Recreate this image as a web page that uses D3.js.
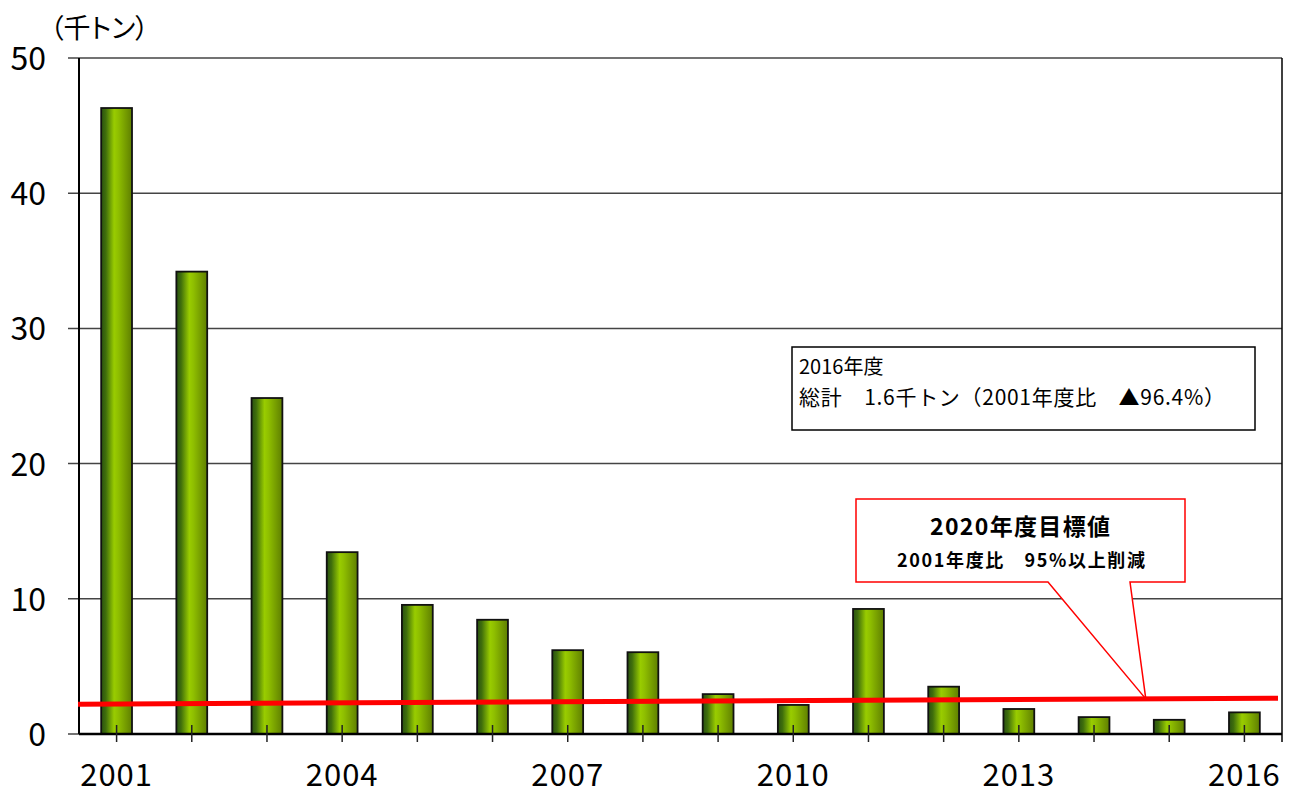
<!DOCTYPE html>
<html><head><meta charset="utf-8">
<script src="https://cdn.jsdelivr.net/npm/d3@7"></script>
<style>body{margin:0;background:#fff}svg{display:block}</style>
</head><body>
<script>
const years = ["2001","2002","2003","2004","2005","2006","2007","2008","2009","2010","2011","2012","2013","2014","2015","2016"];
const values = [46.3,34.2,24.85,13.45,9.55,8.45,6.2,6.05,2.95,2.15,9.25,3.5,1.85,1.25,1.05,1.6];
const yTicks = [0,10,20,30,40,50];
const xLabelYears = ["2001","2004","2007","2010","2013","2016"];
const targetLine = [2.2, 2.65]; // drawn target line, left and right ends
const unitLabel = "（千トン）";
const infoLines = ["2016年度","総計　1.6千トン（2001年度比　▲96.4%）"];
const targetLines = ["2020年度目標値","2001年度比　95%以上削減"];

const W=1293,H=796;
const m={l:79,r:1282,t:58,b:734};
const svg=d3.select("body").append("svg").attr("width",W).attr("height",H);
const font="'Noto Sans CJK JP','Noto Sans','DejaVu Sans',sans-serif";

const x=d3.scaleBand().domain(years).range([m.l,m.r]).paddingInner(0.59).paddingOuter(0.295);
const y=d3.scaleLinear().domain([0,50]).range([m.b,m.t]);

const defs=svg.append("defs");
const g=defs.append("linearGradient").attr("id","bg").attr("x1","0").attr("x2","1").attr("y1","0").attr("y2","0");
[[0,"#2a5211"],[0.15,"#3f6e0c"],[0.42,"#99cc00"],[0.55,"#8fbf00"],[1,"#5f7f00"]].forEach(s=>g.append("stop").attr("offset",s[0]).attr("stop-color",s[1]));

// gridlines
svg.append("g").selectAll("line").data(yTicks.filter(d=>d>0)).join("line")
  .attr("x1",m.l-11).attr("x2",m.r).attr("y1",d=>y(d)).attr("y2",d=>y(d))
  .attr("stroke","#444").attr("stroke-width",1.5);
svg.append("line").attr("x1",m.l-11).attr("x2",m.l).attr("y1",y(0)).attr("y2",y(0)).attr("stroke","#444").attr("stroke-width",1.5);

// y labels
svg.append("g").selectAll("text").data(yTicks).join("text")
  .attr("x",46).attr("y",d=>y(d)+12).attr("text-anchor","end")
  .attr("font-family",font).attr("font-size",32).attr("fill","#000").text(d=>d);

// bars
svg.append("g").selectAll("rect").data(years).join("rect")
  .attr("x",d=>x(d)).attr("width",x.bandwidth())
  .attr("y",(d,i)=>y(values[i])).attr("height",(d,i)=>y(0)-y(values[i]))
  .attr("fill","url(#bg)").attr("stroke","#111").attr("stroke-width",1.8);

// plot frame
svg.append("line").attr("x1",m.l).attr("x2",m.l).attr("y1",m.t).attr("y2",m.b).attr("stroke","#000").attr("stroke-width",2);
svg.append("line").attr("x1",m.r).attr("x2",m.r).attr("y1",m.t).attr("y2",m.b+8).attr("stroke","#000").attr("stroke-width",1.5);
svg.append("line").attr("x1",m.l).attr("x2",m.r).attr("y1",y(0)).attr("y2",y(0)).attr("stroke","#000").attr("stroke-width",2.5);

// x ticks
svg.append("g").selectAll("line").data(years).join("line")
  .attr("x1",d=>x(d)+x.bandwidth()/2).attr("x2",d=>x(d)+x.bandwidth()/2)
  .attr("y1",m.b-9).attr("y2",m.b+8).attr("stroke","#222").attr("stroke-width",1.5);

// x labels
svg.append("g").selectAll("text").data(xLabelYears).join("text")
  .attr("x",d=>x(d)+x.bandwidth()/2).attr("y",786).attr("text-anchor","middle")
  .attr("font-family",font).attr("font-size",31).attr("letter-spacing",1).attr("fill","#000").text(d=>d);

// unit label
svg.append("text").attr("x",50).attr("y",38).attr("font-family",font).attr("font-size",27)
  .style("font-feature-settings","'palt' 1").text(unitLabel);

// target line
svg.append("line").attr("x1",m.l-1).attr("x2",m.r-4).attr("y1",y(targetLine[0])).attr("y2",y(targetLine[1]))
  .attr("stroke","#ff0000").attr("stroke-width",5);

// info box
svg.append("rect").attr("x",792).attr("y",347).attr("width",463).attr("height",83)
  .attr("fill","#fff").attr("stroke","#000").attr("stroke-width",1.5);
svg.append("text").attr("x",799).attr("y",374).attr("font-family",font).attr("font-size",20).text(infoLines[0]);
svg.append("text").attr("x",799).attr("y",405).attr("font-family",font).attr("font-size",21)
  .attr("textLength",426).attr("lengthAdjust","spacing").text(infoLines[1]);

// callout
const tipX=x("2015")-8, tipY=y(targetLine[0]+(targetLine[1]-targetLine[0])*((x("2015")-8-m.l)/(m.r-m.l)));
const cp=d3.path();
cp.moveTo(856,499);cp.lineTo(1185,499);cp.lineTo(1185,582);cp.lineTo(1130,582);cp.lineTo(tipX,tipY);cp.lineTo(1048,582);cp.lineTo(856,582);cp.closePath();
svg.append("path").attr("d",cp.toString()).attr("fill","#fff").attr("stroke","#ff0000").attr("stroke-width",1.5);
svg.append("text").attr("x",930).attr("y",535).attr("font-family",font).attr("font-weight","bold").attr("font-size",23)
  .attr("textLength",180).attr("lengthAdjust","spacing").text(targetLines[0]);
svg.append("text").attr("x",897).attr("y",567).attr("font-family",font).attr("font-weight","bold").attr("font-size",18)
  .attr("textLength",248).attr("lengthAdjust","spacing").text(targetLines[1]);
</script>
</body></html>
